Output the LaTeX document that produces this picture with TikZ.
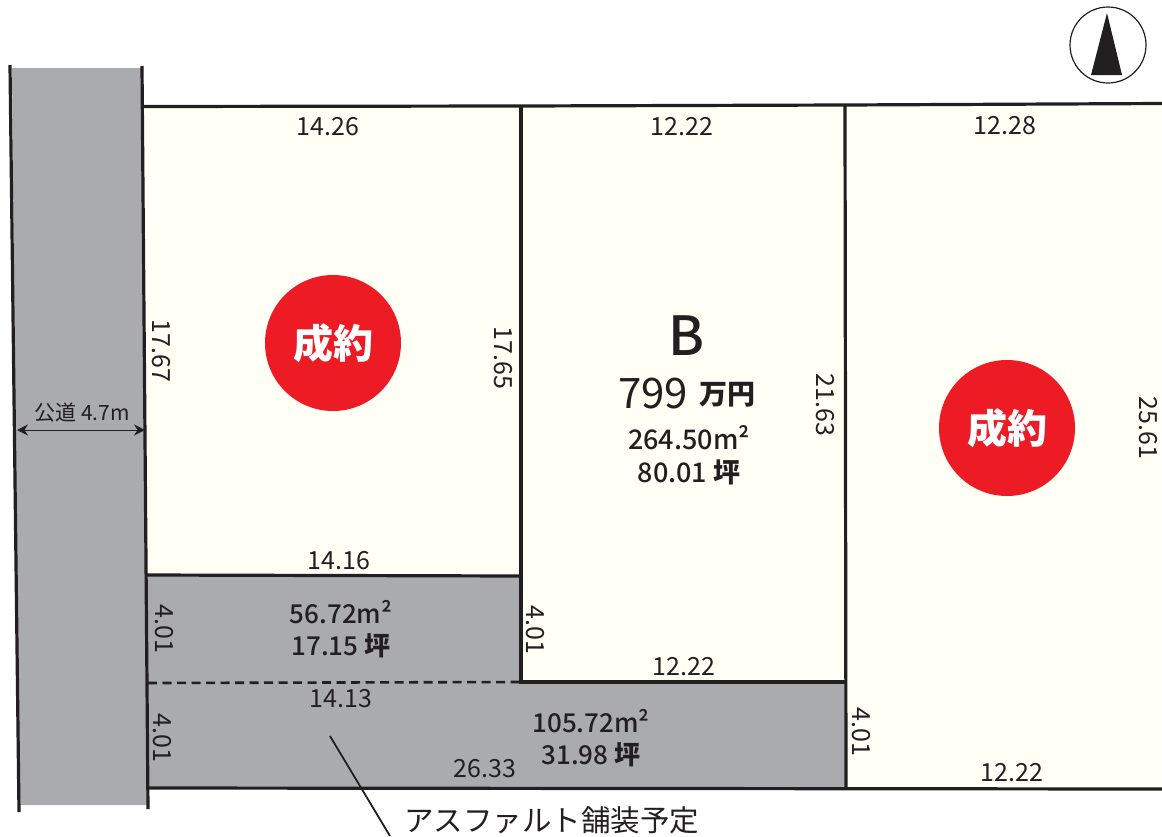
\documentclass[tikz,border=0pt]{standalone}
\usepackage{fontspec}
\setmainfont{Noto Sans CJK JP}
\newfontfamily\mediumfont{Noto Sans CJK JP Medium}
\usetikzlibrary{arrows.meta}
\definecolor{lotfill}{HTML}{FFFFF6}
\definecolor{roadgray}{HTML}{A9ABAE}
\definecolor{inkline}{HTML}{231F20}
\definecolor{soldred}{HTML}{ED1C24}
\tikzset{
	lotline/.style={draw=inkline, line width=3.2pt},
	dim/.style={inner sep=0pt, text=inkline, font=\fontsize{25}{28}\selectfont},
	dimv/.style={dim, rotate=-90},
	area/.style={inner sep=0pt, align=center, text=inkline, font=\mediumfont\fontsize{26}{32}\selectfont},
	sold/.style={circle, fill=soldred, minimum size=136pt, inner sep=0pt, text=white, font=\fontsize{40}{44}\selectfont\bfseries},
}
\begin{document}
\begin{tikzpicture}[x=1pt,y=-1pt]
		\useasboundingbox (0,0) rectangle (1162,836);

		\coordinate (r1) at (10,65);
		\coordinate (r2) at (19,812);
		\coordinate (r3) at (142,66);
		\coordinate (r4) at (148,809);
		\coordinate (a1) at (144,106.5);
		\coordinate (a2) at (521,106);
		\coordinate (a3) at (521,576);
		\coordinate (a4) at (147,575);
		\coordinate (b1) at (845,105);
		\coordinate (b2) at (521,682);
		\coordinate (b3) at (845,682);
		\coordinate (c1) at (1162,103.5);
		\coordinate (c2) at (846,788);
		\coordinate (c3) at (1162,789);
		\coordinate (g1) at (148,683);
		\coordinate (g2) at (148,788);

		\fill[roadgray] (12,68)--(19,805)--(147,805)--(143,68)--cycle;
		\fill[lotfill] (a1)--(a2)--(a3)--(a4)--cycle;
		\fill[lotfill] (a2)--(b1)--(b3)--(b2)--cycle;
		\fill[lotfill] (b1)--(c1)--(c3)--(c2)--cycle;
		\fill[roadgray] (a4)--(a3)--(b2)--(b3)--(c2)--(g2)--cycle;

		\draw[lotline] (r1)--(r2);
		\draw[lotline] (r3)--(r4);
		\draw[lotline] (a1)--(a2)--(b1)--(c1);
		\draw[lotline] (a4)--(a3);
		\draw[lotline] (a2)--(b2)--(b3);
		\draw[lotline] (b1)--(c2);
		\draw[lotline] (g2)--(c3);
		\draw[lotline, line width=2.6pt, dash pattern=on 9pt off 5.5pt] (g1)--(b2);

		\node[sold] at (333,343)(soldA){成約};
		\node[sold] at (1007,428)(soldC){成約};

		\node[dim] at (328,127)(topA){14.26};
		\node[dim] at (682,127)(topB){12.22};
		\node[dim] at (1005,126)(topC){12.28};
		\node[dim] at (339,561)(botA){14.16};
		\node[dim] at (684,667)(botB){12.22};
		\node[dim] at (1012,773)(botC){12.22};
		\node[dim] at (341,699)(midG){14.13};
		\node[dim] at (485,769)(botG){26.33};

		\node[dimv] at (161,351)(leftA){17.67};
		\node[dimv] at (503,358)(rightA){17.65};
		\node[dimv] at (825,405)(rightB){21.63};
		\node[dimv] at (1148,428)(rightC){25.61};
		\node[dimv] at (164,629)(leftG1){4.01};
		\node[dimv] at (162,738)(leftG2){4.01};
		\node[dimv] at (535,630)(leftB){4.01};
		\node[dimv] at (861,732)(leftC){4.01};

		\node[inner sep=0pt, text=inkline, font=\mediumfont\fontsize{54}{60}\selectfont] at (687,336)(nameB){B};
		\node[inner sep=0pt, anchor=base west, text=inkline, font=\fontsize{42}{46}\selectfont] at (618,408)(priceB){799};
		\node[inner sep=0pt, anchor=base west, text=inkline, font=\fontsize{28}{30}\selectfont\bfseries] at (699,404)(unitB){万円};
		\node[area, font=\mediumfont\fontsize{27}{33}\selectfont] at (689,455)(areaB){264.50m²\\80.01 {\bfseries 坪}};
		\node[area] at (341,629)(areaG1){56.72m²\\17.15 {\bfseries 坪}};
		\node[area] at (591,738)(areaG2){105.72m²\\31.98 {\bfseries 坪}};

		\node[inner sep=0pt, text=inkline, font=\fontsize{21}{24}\selectfont] at (82,413)(road){公道 4.7m};
		\coordinate (roadL) at (17,430);
		\coordinate (roadR) at (145,430);
		\draw[{Stealth[length=11pt,width=11pt]}-{Stealth[length=11pt,width=11pt]}, inkline, line width=1pt] (roadL)--(roadR);

		\node[inner sep=0pt, anchor=west, text=inkline, font=\fontsize{29.5}{32}\selectfont] at (404,820)(paving){アスファルト舗装予定};
		\coordinate (lead1) at (330,736);
		\coordinate (lead2) at (390,836);
		\draw[inkline, line width=1.8pt] (lead1)--(lead2);

		\node[circle, draw=inkline, line width=1.2pt, fill=white, minimum size=76pt, inner sep=0pt] at (1108,45)(north){};
		\coordinate (tip) at (1107,13);
		\coordinate (baseL) at (1091,75);
		\coordinate (baseR) at (1122,75);
		\fill[inkline] (tip)--(baseR)--(baseL)--cycle;
	\end{tikzpicture}
\end{document}
